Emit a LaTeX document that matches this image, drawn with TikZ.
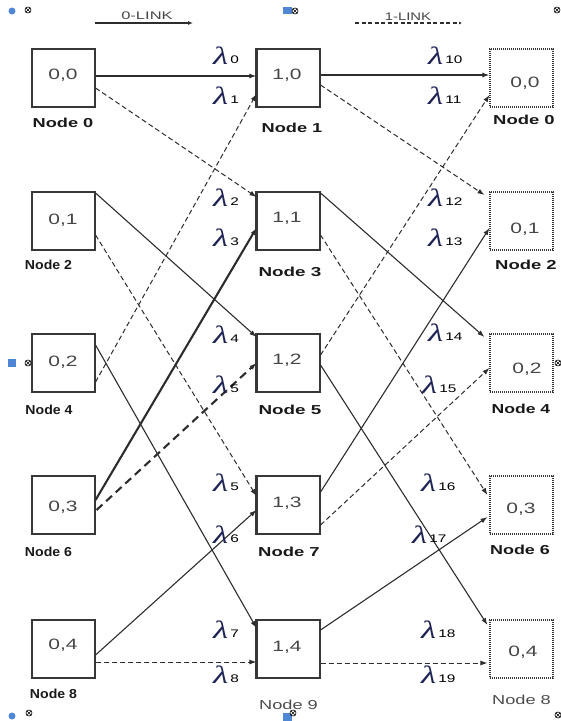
\documentclass[tikz,border=0pt]{standalone}
\usepackage{graphicx}
\usepackage{fontspec}
\setmainfont{Liberation Sans}
\newfontfamily\lamfont{Liberation Serif}
\usetikzlibrary{arrows.meta,calc}
\definecolor{boxgray}{RGB}{55,55,55}
\definecolor{linegray}{RGB}{45,45,45}
\definecolor{numgray}{RGB}{70,70,70}
\definecolor{lamblue}{RGB}{30,35,85}
\definecolor{markblue}{RGB}{79,134,214}
\newcommand{\sx}[2]{\scalebox{#1}[1]{#2}}
\newcommand{\lam}[1]{\textcolor{lamblue}{\sx{1.4}{\fontsize{25}{25}\selectfont\lamfont\itshape λ}}\hspace{2pt}\raisebox{1pt}{\sx{1.4}{\fontsize{11}{11}\selectfont #1}}}
\begin{document}
\begin{tikzpicture}[x=1pt,y=-1pt,
  box/.style={draw=boxgray, line width=1.1pt, minimum width=63pt, minimum height=58pt, inner sep=0pt},
  dbox/.style={box, dash pattern=on 1.3pt off 0.7pt},
  num/.style={inner sep=0pt, text=numgray, font=\fontsize{15}{15}\selectfont},
  nlab/.style={inner sep=0pt, text=black!90, font=\fontsize{13}{13}\selectfont\bfseries},
  rlab/.style={inner sep=0pt, text=black!70, font=\fontsize{13}{13}\selectfont},
  lamlab/.style={inner sep=0pt, anchor=west},
  zl/.style={line width=1.1pt, draw=linegray, -{Latex[length=7pt,width=5pt]}},
  ol/.style={line width=1pt, draw=linegray, dash pattern=on 5pt off 3pt, -{Latex[length=7pt,width=5pt]}},
  mk/.style={draw=black, line width=0.6pt, circle, minimum size=6pt, inner sep=0pt},
  bl/.style={fill=markblue, draw=none}
]
\useasboundingbox (0,0) rectangle (561,721);

% headers
\node[inner sep=0pt, text=numgray, font=\fontsize{11}{11}\selectfont] (h0) at (147,16) {\sx{1.5}{0-LINK}};
\coordinate (h0a) at (95,23);
\coordinate (h0b) at (193,23);
\draw[line width=1.1pt, draw=linegray, -{Latex[length=5pt,width=4pt]}] (h0a) -- (h0b);
\node[inner sep=0pt, text=numgray, font=\fontsize{11}{11}\selectfont] (h1) at (408,17) {\sx{1.35}{1-LINK}};
\coordinate (h1a) at (355,23);
\coordinate (h1b) at (462,23);
\draw[line width=1.1pt, draw=linegray, dash pattern=on 4pt off 2.5pt, -{Latex[length=3pt,width=3pt]}] (h1a) -- (h1b);

% boxes column 0
\node[box] (a0) at (63.5,78) {};
\node[box] (a1) at (63.5,221) {};
\node[box] (a2) at (63.5,363) {};
\node[box] (a3) at (63.5,505) {};
\node[box] (a4) at (63.5,649) {};
% column 1
\node[box] (b0) at (288.5,78) {};
\node[box] (b1) at (288.5,221) {};
\node[box] (b2) at (288.5,363) {};
\node[box] (b3) at (288.5,505) {};
\node[box] (b4) at (288.5,649) {};
\foreach \n in {b0,b1,b2,b3,b4}
  \draw[line width=2.4pt, draw=boxgray] (\n.north west) -- (\n.south west);
% column 2
\node[dbox] (c0) at (521.5,78) {};
\node[dbox] (c1) at (521.5,221) {};
\node[dbox] (c2) at (521.5,363) {};
\node[dbox] (c3) at (521.5,505) {};
\node[dbox] (c4) at (521.5,649) {};

% box numbers
\node[num] (ta0) at (63,75) {\sx{1.4}{0,0}};
\node[num] (ta1) at (63,220) {\sx{1.4}{0,1}};
\node[num] (ta2) at (63,362) {\sx{1.4}{0,2}};
\node[num] (ta3) at (63,507) {\sx{1.4}{0,3}};
\node[num] (ta4) at (63,645) {\sx{1.4}{0,4}};
\node[num] (tb0) at (287,75) {\sx{1.4}{1,0}};
\node[num] (tb1) at (287,218) {\sx{1.4}{1,1}};
\node[num] (tb2) at (287,360) {\sx{1.4}{1,2}};
\node[num] (tb3) at (287,503) {\sx{1.4}{1,3}};
\node[num] (tb4) at (287,647) {\sx{1.4}{1,4}};
\node[num] (tc0) at (525,83) {\sx{1.4}{0,0}};
\node[num] (tc1) at (525,229) {\sx{1.4}{0,1}};
\node[num] (tc2) at (527,369) {\sx{1.4}{0,2}};
\node[num] (tc3) at (521,509) {\sx{1.4}{0,3}};
\node[num] (tc4) at (523,652) {\sx{1.4}{0,4}};

% node labels
\node[nlab] (la0) at (63,123) {\sx{1.4}{Node 0}};
\node[nlab] (la1) at (48.5,265) {\sx{1.085}{Node 2}};
\node[nlab] (la2) at (49,410) {\sx{1.085}{Node 4}};
\node[nlab] (la3) at (48.5,552) {\sx{1.085}{Node 6}};
\node[nlab] (la4) at (53.5,694) {\sx{1.085}{Node 8}};
\node[nlab] (lb0) at (292,128) {\sx{1.4}{Node 1}};
\node[nlab] (lb1) at (290,272) {\sx{1.45}{Node 3}};
\node[nlab] (lb2) at (290,410) {\sx{1.45}{Node 5}};
\node[nlab] (lb3) at (289,552) {\sx{1.42}{Node 7}};
\node[rlab] (lb4) at (288.5,705) {\sx{1.4}{Node 9}};
\node[nlab] (lc0) at (524,120) {\sx{1.42}{Node 0}};
\node[nlab] (lc1) at (526,265) {\sx{1.42}{Node 2}};
\node[nlab] (lc2) at (521,409) {\sx{1.35}{Node 4}};
\node[nlab] (lc3) at (520,550) {\sx{1.38}{Node 6}};
\node[rlab] (lc4) at (521.5,700) {\sx{1.4}{Node 8}};

% left stage connectors
\draw[zl, line width=1.7pt] ($(a0.east)+(0,-2)$) -- ($(b0.west)+(0,-2)$);
\draw[ol] ($(a0.east)+(0,10)$) -- ($(b1.west)+(0,-24)$);
\draw[zl] ($(a1.east)+(0,-28)$) -- ($(b2.west)+(0,-26)$);
\draw[ol] ($(a1.east)+(0,14)$) -- ($(b3.west)+(0,-9)$);
\draw[ol] ($(a2.east)+(0,19)$) -- ($(b0.west)+(0,16)$);
\draw[zl] ($(a2.east)+(0,-18)$) -- ($(b4.west)+(0,-21)$);
\draw[zl, line width=2.1pt] ($(a3.east)+(0,-5)$) -- ($(b1.west)+(0,7)$);
\draw[ol, line width=2.1pt, dash pattern=on 8pt off 5pt] ($(a3.east)+(1,5)$) -- ($(b2.west)+(0,0)$);
\draw[zl] ($(a4.east)+(0,6)$) -- ($(b3.west)+(0,5)$);
\draw[ol] ($(a4.east)+(0,13)$) -- ($(b4.west)+(0,13)$);

% right stage connectors
\draw[zl, line width=1.7pt] ($(b0.east)+(0,-3)$) -- ($(c0.west)+(0,-3)$);
\draw[ol] ($(b0.east)+(0,7)$) -- ($(c1.west)+(-5,-26)$);
\draw[zl] ($(b1.east)+(0,-28)$) -- ($(c2.west)+(-5,-26)$);
\draw[ol] ($(b1.east)+(0,14)$) -- ($(c3.west)+(-2,-10)$);
\draw[ol] ($(b2.east)+(0,-8)$) -- ($(c0.west)+(0,17)$);
\draw[zl] ($(b2.east)+(0,2)$) -- ($(c4.west)+(-2,-24)$);
\draw[zl] ($(b3.east)+(0,-13)$) -- ($(c1.west)+(0,7)$);
\draw[ol] ($(b3.east)+(0,20)$) -- ($(c2.west)+(0,5)$);
\draw[zl] ($(b4.east)+(0,-19)$) -- ($(c3.west)+(-2,12)$);
\draw[ol] ($(b4.east)+(0,14)$) -- ($(c4.west)+(-2,14)$);

% lambda labels left
\node[lamlab] (l0) at (213,56) {\lam{0}};
\node[lamlab] (l1) at (213,96) {\lam{1}};
\node[lamlab] (l2) at (213,198) {\lam{2}};
\node[lamlab] (l3) at (213,238) {\lam{3}};
\node[lamlab] (l4) at (213,335) {\lam{4}};
\node[lamlab] (l5) at (213,385) {\lam{5}};
\node[lamlab] (l5b) at (213,483) {\lam{5}};
\node[lamlab] (l6) at (213,535) {\lam{6}};
\node[lamlab] (l7) at (213,630) {\lam{7}};
\node[lamlab] (l8) at (213,675) {\lam{8}};
% lambda labels right
\node[lamlab] (l10) at (428,56) {\lam{10}};
\node[lamlab] (l11) at (428,96) {\lam{11}};
\node[lamlab] (l12) at (428,198) {\lam{12}};
\node[lamlab] (l13) at (428,238) {\lam{13}};
\node[lamlab] (l14) at (428,333) {\lam{14}};
\node[lamlab] (l15) at (422,385) {\lam{15}};
\node[lamlab] (l16) at (421,483) {\lam{16}};
\node[lamlab] (l17) at (412,535) {\lam{17}};
\node[lamlab] (l18) at (421,630) {\lam{18}};
\node[lamlab] (l19) at (421,675) {\lam{19}};

% canvas handles
\fill[bl] (12,11) circle (3.5pt);
\node[mk] (m1) at (28,10) {};
\fill[bl] (283,7) rectangle (292,14);
\node[mk, fill=white] (m2) at (295,11) {};
\node[mk] (m3) at (557,10) {};
\fill[bl] (8,359) rectangle (16,367);
\node[mk] (m4) at (28,363) {};
\node[mk] (m5) at (558,363) {};
\fill[bl] (12,716) circle (3.5pt);
\node[mk] (m6) at (29,713) {};
\fill[bl] (283,713) rectangle (292,721);
\node[mk, fill=white] (m7) at (293,713) {};
\node[mk] (m8) at (558,715) {};
\foreach \m in {m1,m2,m3,m4,m5,m6,m7,m8}
  \draw[line width=0.5pt] (\m.north west) -- (\m.south east) (\m.north east) -- (\m.south west);
\end{tikzpicture}
\end{document}
